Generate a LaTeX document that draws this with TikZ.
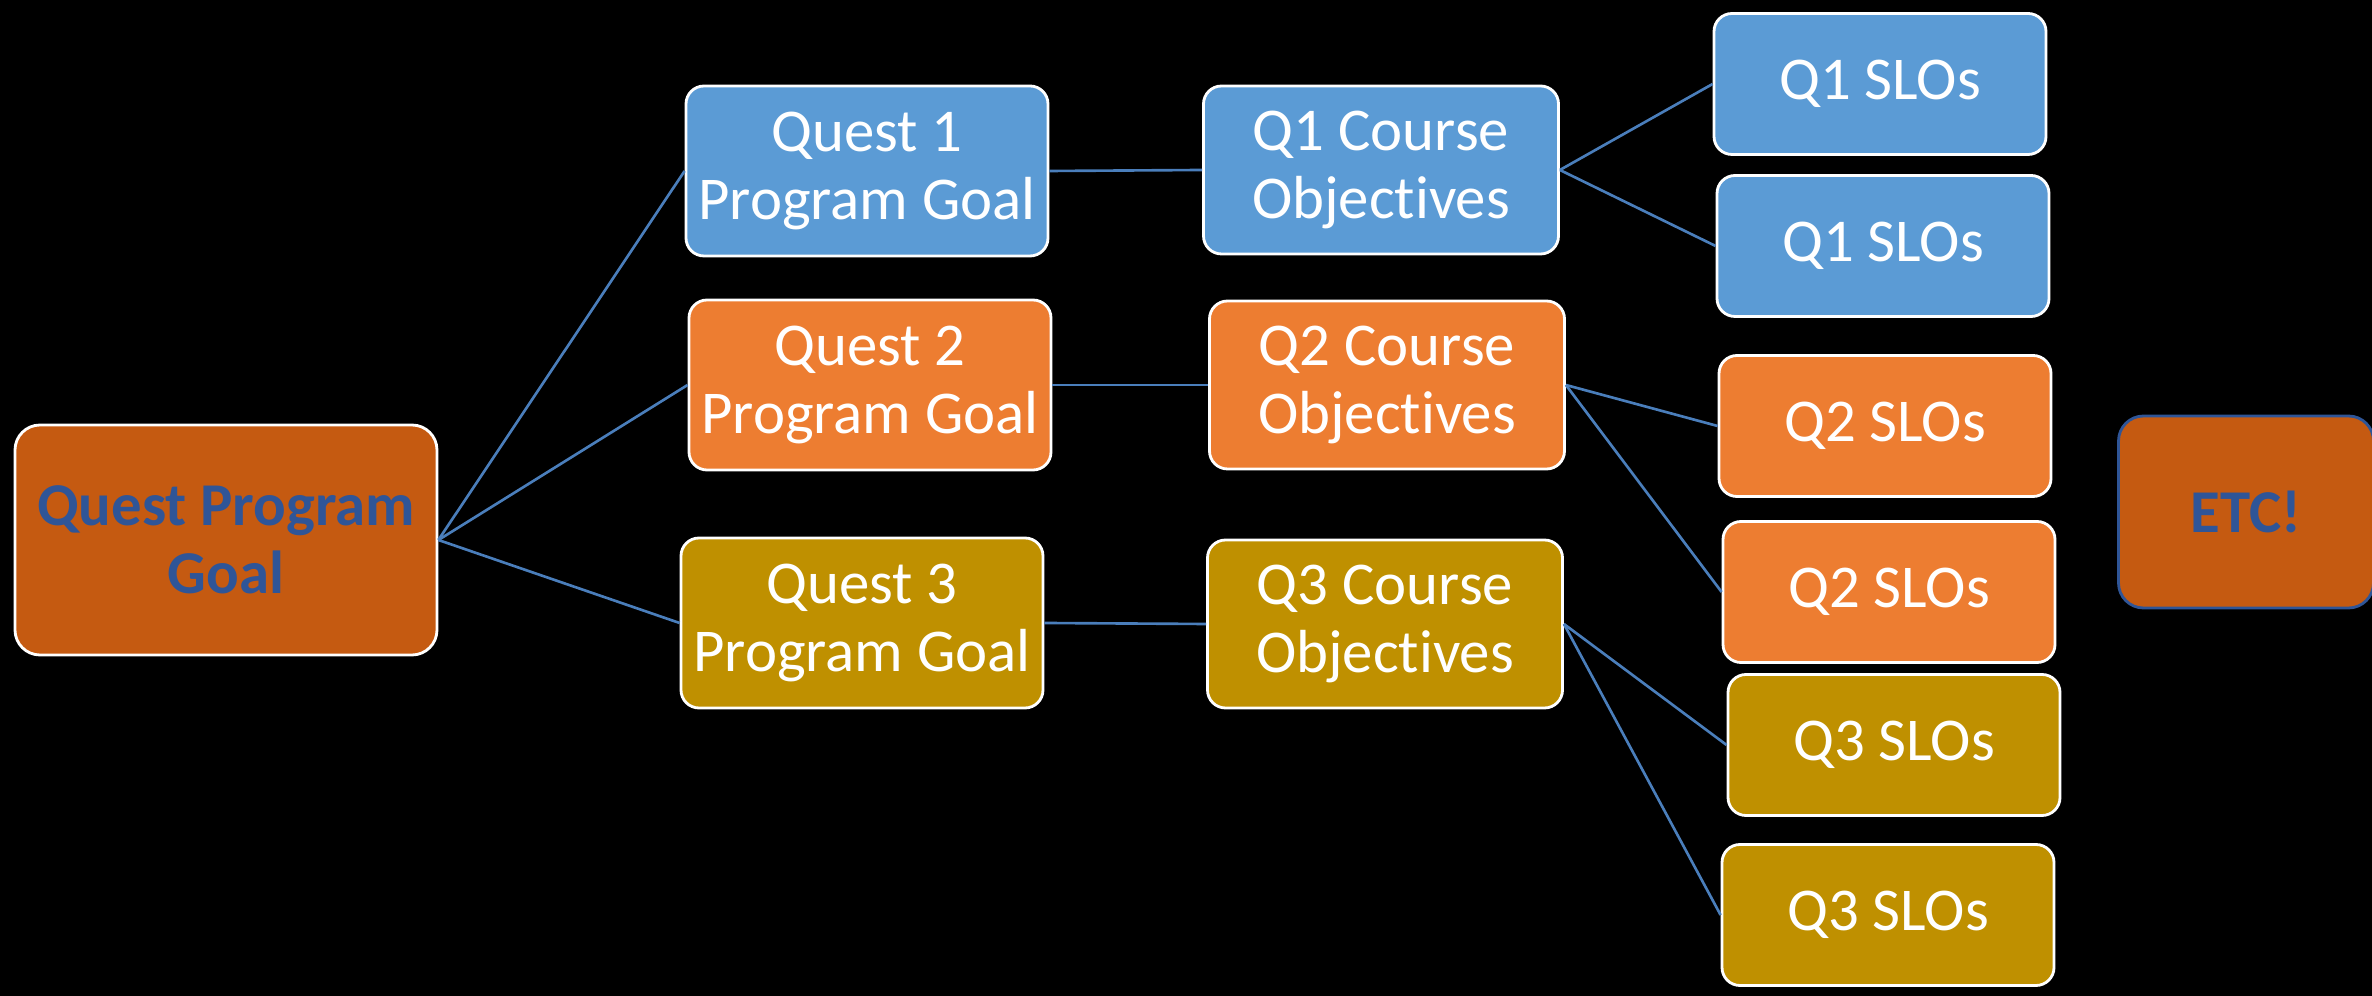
\documentclass[tikz,border=0pt]{standalone}
\usepackage{fontspec}
\setmainfont{Carlito}[Ligatures=NoCommon]
\usetikzlibrary{positioning}

\definecolor{qblue}{HTML}{5B9BD5}
\definecolor{qorange}{HTML}{ED7D31}
\definecolor{qgold}{HTML}{BF9000}
\definecolor{qrust}{HTML}{C55A11}
\definecolor{qnavy}{HTML}{2F5597}
\definecolor{qline}{HTML}{4A7EBB}

\begin{document}
\begin{tikzpicture}[x=1cm,y=1cm,
    box/.style={draw=white,line width=0.8pt,rounded corners=0.18cm,align=center,
      inner sep=0pt,text=white,font=\fontsize{17.3pt}{19.3pt}\selectfont},
    goalbox/.style={box,minimum width=3.62cm,minimum height=1.70cm},
    objbox/.style={box,minimum width=3.55cm,minimum height=1.68cm},
    slobox/.style={box,minimum width=3.32cm,minimum height=1.41cm},
    bigbox/.style={box,text=qnavy,fill=qrust,rounded corners=0.25cm,
      font=\fontsize{17.3pt}{19.3pt}\selectfont\bfseries},
    link/.style={draw=qline,line width=0.75pt}]
  \fill[black] (0,0) rectangle (23.72,9.96);
  \useasboundingbox (0,0) rectangle (23.72,9.96);

  % top of the tree
  \node[bigbox,minimum width=4.22cm,minimum height=2.30cm] (root) at (2.26,4.56)
      {Quest Program\\Goal};

  % program goals
  \node[goalbox,fill=qblue]   (goal1) at (8.67,8.25) {Quest 1\\Program Goal};
  \node[goalbox,fill=qorange] (goal2) at (8.70,6.11) {Quest 2\\Program Goal};
  \node[goalbox,fill=qgold]   (goal3) at (8.62,3.73) {Quest 3\\Program Goal};

  % course objectives
  \node[objbox,fill=qblue]   (obj1) at (13.81,8.26) {Q1 Course\\Objectives};
  \node[objbox,fill=qorange] (obj2) at (13.87,6.11) {Q2 Course\\Objectives};
  \node[objbox,fill=qgold]   (obj3) at (13.85,3.72) {Q3 Course\\Objectives};

  % SLOs
  \node[slobox,fill=qblue]   (slo1a) at (18.80,9.12) {Q1 SLOs};
  \node[slobox,fill=qblue]   (slo1b) at (18.83,7.50) {Q1 SLOs};
  \node[slobox,fill=qorange] (slo2a) at (18.85,5.70) {Q2 SLOs};
  \node[slobox,fill=qorange] (slo2b) at (18.89,4.04) {Q2 SLOs};
  \node[slobox,fill=qgold]   (slo3a) at (18.94,2.51) {Q3 SLOs};
  \node[slobox,fill=qgold]   (slo3b) at (18.88,0.81) {Q3 SLOs};

  \node[bigbox,draw=qnavy,minimum width=2.55cm,minimum height=1.92cm] (etc) at (22.46,4.84) {ETC!};

  % connectors
  \foreach \n in {1,2,3} {
    \draw[link] (root.east) -- (goal\n.west);
    \draw[link] (goal\n.east) -- (obj\n.west);
    \draw[link] (obj\n.east) -- (slo\n a.west);
    \draw[link] (obj\n.east) -- (slo\n b.west);
  }
\end{tikzpicture}
\end{document}
